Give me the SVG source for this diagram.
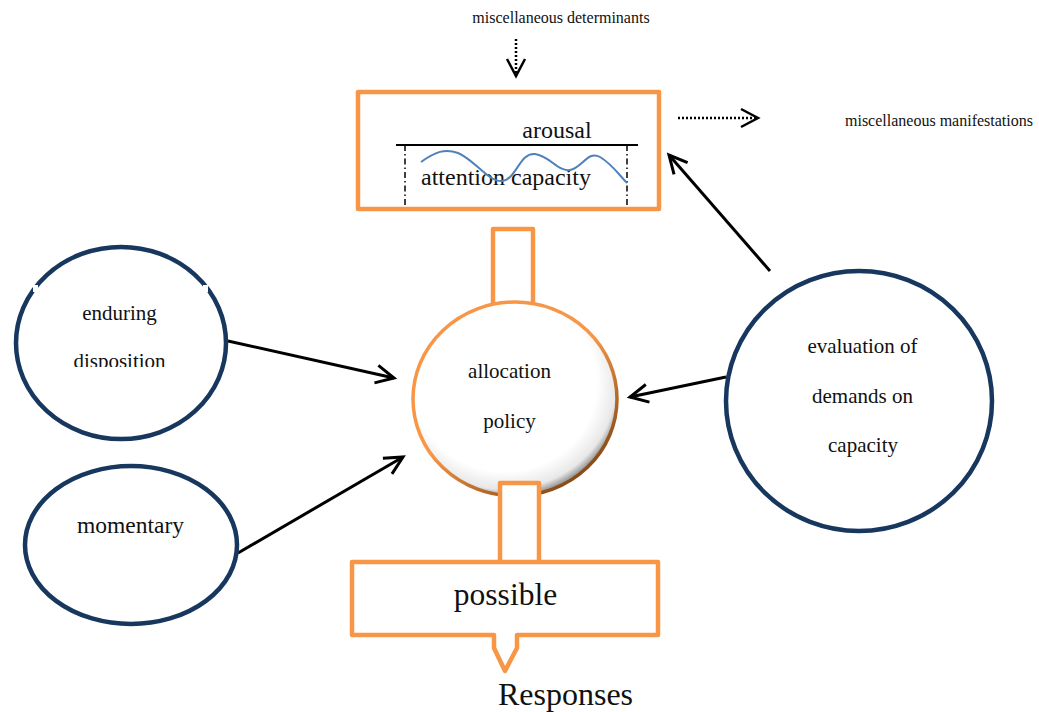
<svg xmlns="http://www.w3.org/2000/svg" width="1039" height="712" viewBox="0 0 1039 712">
<style>
  text { font-family: "Liberation Serif", "Times New Roman", serif; fill: #111; }
  .orange { fill: #fff; stroke: #F79646; stroke-width: 4.5; stroke-linejoin: round; }
  .blue { fill: #fff; stroke: #17375E; stroke-width: 4.5; }
  .conn { stroke: #000; stroke-width: 3; fill: none; }
  .dot { stroke: #000; stroke-width: 2.5; fill: none; stroke-dasharray: 2 2; }
</style>
<defs>
  <marker id="vhead" markerUnits="userSpaceOnUse" markerWidth="30" markerHeight="30" refX="20" refY="10" orient="auto" viewBox="0 0 30 20">
    <path d="M2,1 L20,10 L2,19" fill="none" stroke="#000" stroke-width="3"/>
  </marker>
  <marker id="vdot" markerUnits="userSpaceOnUse" markerWidth="30" markerHeight="30" refX="18" refY="10" orient="auto" viewBox="0 0 30 20">
    <path d="M1,1 L18,10 L1,19" fill="none" stroke="#000" stroke-width="2.5"/>
  </marker>
  <radialGradient id="ballFill" cx="0.45" cy="0.42" r="0.58">
    <stop offset="0.78" stop-color="#ffffff"/>
    <stop offset="0.94" stop-color="#e8e8e8"/>
    <stop offset="1" stop-color="#a0a0a0"/>
  </radialGradient>
  <linearGradient id="ballStroke" x1="0.2" y1="0.1" x2="0.85" y2="0.95">
    <stop offset="0.45" stop-color="#F79646"/>
    <stop offset="1" stop-color="#7a4210"/>
  </linearGradient>
  <clipPath id="clipDisp">
    <rect x="0" y="240" width="250" height="127"/>
  </clipPath>
</defs>

<g id="labels-top">
  <text x="561" y="23" font-size="16" text-anchor="middle">miscellaneous determinants</text>
  <text x="845" y="126" font-size="16">miscellaneous manifestations</text>
</g>

<g id="connectors">
  <line class="dot" x1="516" y1="39" x2="516" y2="76" marker-end="url(#vdot)"/>
  <line class="dot" x1="678" y1="118" x2="758" y2="118" marker-end="url(#vdot)"/>
  <line class="conn" x1="770" y1="271" x2="669" y2="155" marker-end="url(#vhead)"/>
  <line class="conn" x1="228" y1="341" x2="394" y2="378" marker-end="url(#vhead)"/>
  <line class="conn" x1="238" y1="553" x2="403" y2="457" marker-end="url(#vhead)"/>
  <line class="conn" x1="726" y1="377" x2="630" y2="397" marker-end="url(#vhead)"/>
</g>

<g id="arousal-box">
  <rect class="orange" x="358" y="92" width="301" height="117"/>
  <line x1="396" y1="145" x2="638" y2="145" stroke="#000" stroke-width="2"/>
  <line x1="405" y1="145" x2="405" y2="205" stroke="#000" stroke-width="1.5" stroke-dasharray="6 3 1.5 3"/>
  <line x1="627" y1="145" x2="627" y2="205" stroke="#000" stroke-width="1.5" stroke-dasharray="6 3 1.5 3"/>
  <text x="557" y="138" font-size="24" text-anchor="middle">arousal</text>
  <text x="421" y="185" font-size="24">attention capacity</text>
  <path d="M421,162 C435,152 445,148 458,153 C475,160 488,182 502,181 C516,180 520,152 535,154 C550,156 558,172 570,170 C582,168 588,150 600,157 C612,164 620,176 627,183" fill="none" stroke="#4F81BD" stroke-width="2"/>
</g>

<g id="top-stem">
  <rect class="orange" x="493" y="229" width="40" height="80"/>
</g>

<g id="allocation-policy">
  <ellipse cx="515" cy="399" rx="102" ry="97" fill="url(#ballFill)" stroke="url(#ballStroke)" stroke-width="3.5"/>
  <text x="509.5" y="378" font-size="21" text-anchor="middle">allocation</text>
  <text x="509.5" y="428" font-size="21" text-anchor="middle">policy</text>
</g>

<g id="bottom-stem">
  <rect class="orange" x="500" y="483" width="39" height="80"/>
</g>

<g id="possible-responses">
  <path class="orange" d="M352,562 L658,562 L658,635 L517,635 L517,648 L505,671 L494,648 L494,635 L352,635 Z"/>
  <text x="505.5" y="605" font-size="31.5" text-anchor="middle">possible</text>
  <text x="565.5" y="705" font-size="32" text-anchor="middle">Responses</text>
</g>

<g id="enduring-disposition">
  <ellipse class="blue" cx="121" cy="343" rx="105" ry="96"/>
  <rect x="33" y="285" width="5" height="7" fill="#fff"/>
  <rect x="203" y="285" width="5" height="7" fill="#fff"/>
  <text x="119.5" y="320" font-size="21" text-anchor="middle">enduring</text>
  <text x="119.5" y="368" font-size="21" text-anchor="middle" clip-path="url(#clipDisp)">disposition</text>
</g>

<g id="momentary">
  <ellipse class="blue" cx="131" cy="545" rx="106" ry="79"/>
  <text x="130.5" y="533" font-size="23.5" text-anchor="middle">momentary</text>
</g>

<g id="evaluation">
  <ellipse class="blue" cx="859" cy="401" rx="133" ry="130"/>
  <text x="862.5" y="353" font-size="21" text-anchor="middle">evaluation of</text>
  <text x="862.5" y="403" font-size="21" text-anchor="middle">demands on</text>
  <text x="863" y="452" font-size="21" text-anchor="middle">capacity</text>
</g>
</svg>
